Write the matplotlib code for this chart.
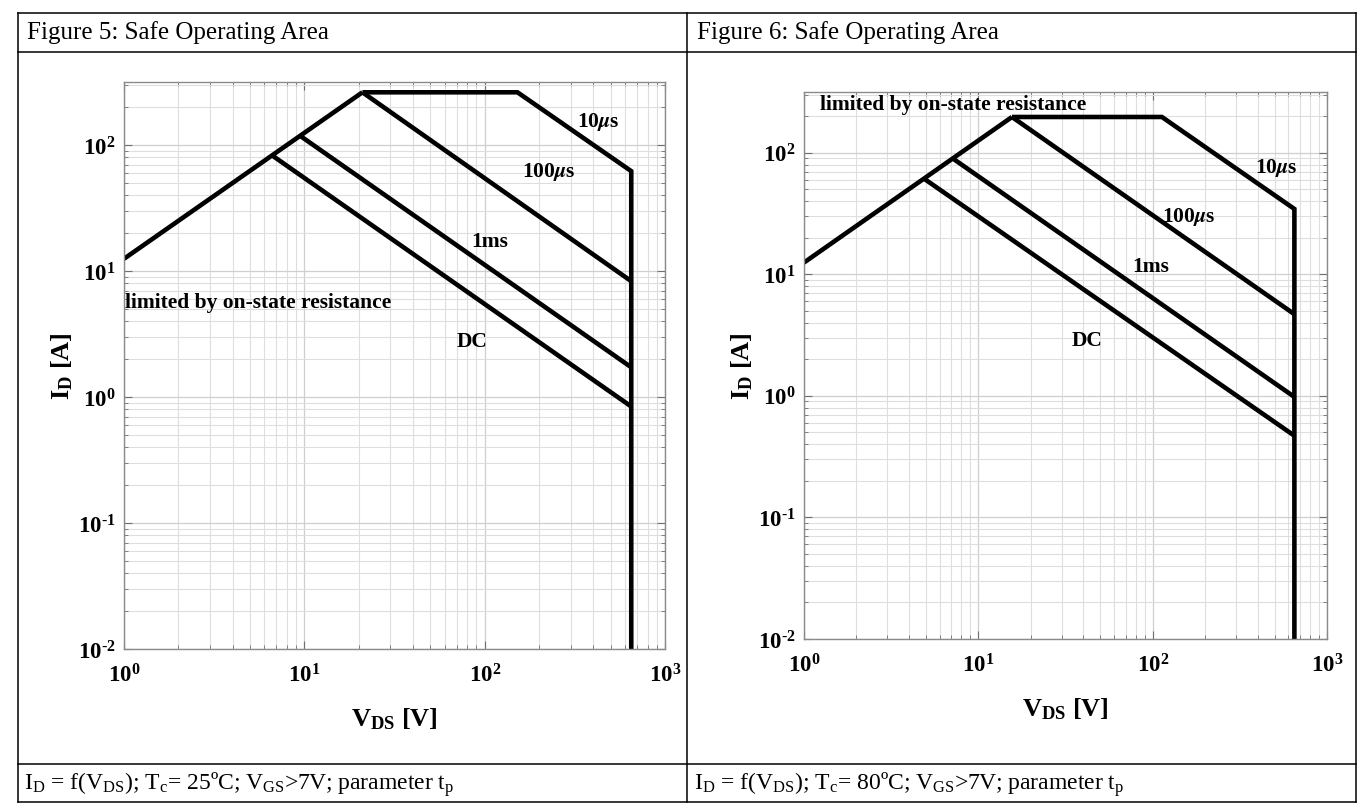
import numpy as np
import matplotlib
matplotlib.use('Agg')
import matplotlib.pyplot as plt
from matplotlib.lines import Line2D
from matplotlib.ticker import LogLocator, NullFormatter, FuncFormatter

plt.rcParams['font.family'] = ['Liberation Serif', 'DejaVu Serif']
plt.rcParams['font.weight'] = 'bold'
plt.rcParams['axes.labelweight'] = 'bold'
plt.rcParams['axes.unicode_minus'] = False
plt.rcParams['mathtext.fontset'] = 'stix'

# Figure 5: Tc = 25 C  (V_DS [V], I_D [A])
v_ron_25 = [1, 21]
i_ron_25 = [12.5, 262]
v_10us_25 = [21, 152, 650, 650]
i_10us_25 = [262, 262, 62, 0.01]
v_100us_25 = [21, 650]
i_100us_25 = [262, 8.3]
v_1ms_25 = [9.5, 650]
i_1ms_25 = [118, 1.72]
v_dc_25 = [6.6, 650]
i_dc_25 = [83, 0.84]

# Figure 6: Tc = 80 C
v_ron_80 = [1, 15.6]
i_ron_80 = [12.5, 197]
v_10us_80 = [15.6, 113, 650, 650]
i_10us_80 = [197, 197, 34.5, 0.01]
v_100us_80 = [15.6, 650]
i_100us_80 = [197, 4.7]
v_1ms_80 = [7.2, 650]
i_1ms_80 = [89, 0.98]
v_dc_80 = [4.9, 650]
i_dc_80 = [61, 0.47]

titles = ['Figure 5: Safe Operating Area', 'Figure 6: Safe Operating Area']
captions = [r'$\mathregular{I_D}$ = f($\mathregular{V_{DS}}$); $\mathregular{T_c}$= 25ºC; '
            r'$\mathregular{V_{GS}}$>7V; parameter $\mathregular{t_p}$',
            r'$\mathregular{I_D}$ = f($\mathregular{V_{DS}}$); $\mathregular{T_c}$= 80ºC; '
            r'$\mathregular{V_{GS}}$>7V; parameter $\mathregular{t_p}$']

W, H = 1371, 804
fig = plt.figure(figsize=(W / 100, H / 100), dpi=100)


def fx(x):
    return x / W


def fy(y):
    return 1 - y / H


def dec_fmt(v, pos):
    e = int(round(np.log10(v)))
    s = str(e).replace('-', '\u2010')
    return r'$\mathregular{10^{%s}}$' % s


# table frame
for y in [14, 53, 765, 803]:
    fig.add_artist(Line2D([fx(18), fx(1356)], [fy(y), fy(y)], color='k', lw=1.1,
                          transform=fig.transFigure))
for x in [18, 687, 1356]:
    fig.add_artist(Line2D([fx(x), fx(x)], [fy(14), fy(803)], color='k', lw=1.1,
                          transform=fig.transFigure))

fig.text(fx(27), fy(33), titles[0], ha='left', va='center', fontsize=18, fontweight='normal')
fig.text(fx(697), fy(33), titles[1], ha='left', va='center', fontsize=18, fontweight='normal')
fig.text(fx(24), fy(785), captions[0], ha='left', va='center', fontsize=17, fontweight='normal')
fig.text(fx(694), fy(785), captions[1], ha='left', va='center', fontsize=17, fontweight='normal')

ax1 = fig.add_axes([fx(124), fy(650), (665 - 124) / W, (650 - 83) / H])
ax2 = fig.add_axes([fx(804), fy(640), (1327 - 804) / W, (640 - 93) / H])


def style(ax):
    ax.set_xscale('log')
    ax.set_yscale('log')
    ax.set_xlim(1, 1000)
    ax.set_ylim(0.01, 10 ** 2.5)
    for axis in [ax.xaxis, ax.yaxis]:
        axis.set_major_locator(LogLocator(10, numticks=10))
        axis.set_minor_locator(LogLocator(10, subs=np.arange(2, 10), numticks=20))
        axis.set_major_formatter(FuncFormatter(dec_fmt))
        axis.set_minor_formatter(NullFormatter())
    ax.grid(True, which='major', color='#cfcfcf', lw=0.9)
    ax.grid(True, which='minor', color='#dedede', lw=0.8)
    ax.set_axisbelow(True)
    for s in ax.spines.values():
        s.set_color('#8a8a8a')
        s.set_linewidth(1.0)
    ax.tick_params(which='both', direction='in', top=True, right=True, color='#707070')
    ax.tick_params(which='major', length=6, labelsize=16.5, pad=10)
    ax.tick_params(axis='y', which='major', pad=6)
    ax.tick_params(which='minor', length=3)
    ax.set_xlabel(r'$\mathregular{V_{DS}}$ [V]', fontsize=19, labelpad=14)
    ax.set_ylabel(r'$\mathregular{I_D}$ [A]', fontsize=19, labelpad=2)


lk = dict(color='k', lw=3.3, solid_joinstyle='miter', solid_capstyle='butt')
tk = dict(ha='center', va='center', fontsize=15.5, fontweight='bold')

style(ax1)
ax1.plot(v_ron_25, i_ron_25, **lk)
ax1.plot(v_10us_25, i_10us_25, **lk)
ax1.plot(v_100us_25, i_100us_25, **lk)
ax1.plot(v_1ms_25, i_1ms_25, **lk)
ax1.plot(v_dc_25, i_dc_25, **lk)
ax1.text(426, 155, r'10$\mu$s', **tk)
ax1.text(225, 62, r'100$\mu$s', **tk)
ax1.text(107, 17.3, '1ms', **tk)
ax1.text(85, 2.8, 'DC', **tk)
ax1.text(1.01, 5.7, 'limited by on-state resistance', ha='left', va='center',
         fontsize=15.5, fontweight='bold')

style(ax2)
ax2.plot(v_ron_80, i_ron_80, **lk)
ax2.plot(v_10us_80, i_10us_80, **lk)
ax2.plot(v_100us_80, i_100us_80, **lk)
ax2.plot(v_1ms_80, i_1ms_80, **lk)
ax2.plot(v_dc_80, i_dc_80, **lk)
ax2.text(511, 76, r'10$\mu$s', **tk)
ax2.text(160, 30, r'100$\mu$s', **tk)
ax2.text(97, 11.6, '1ms', **tk)
ax2.text(42, 2.86, 'DC', **tk)
ax2.text(1.24, 252, 'limited by on-state resistance', ha='left', va='center',
         fontsize=15.5, fontweight='bold')

fig.savefig('out.png', dpi=100)
